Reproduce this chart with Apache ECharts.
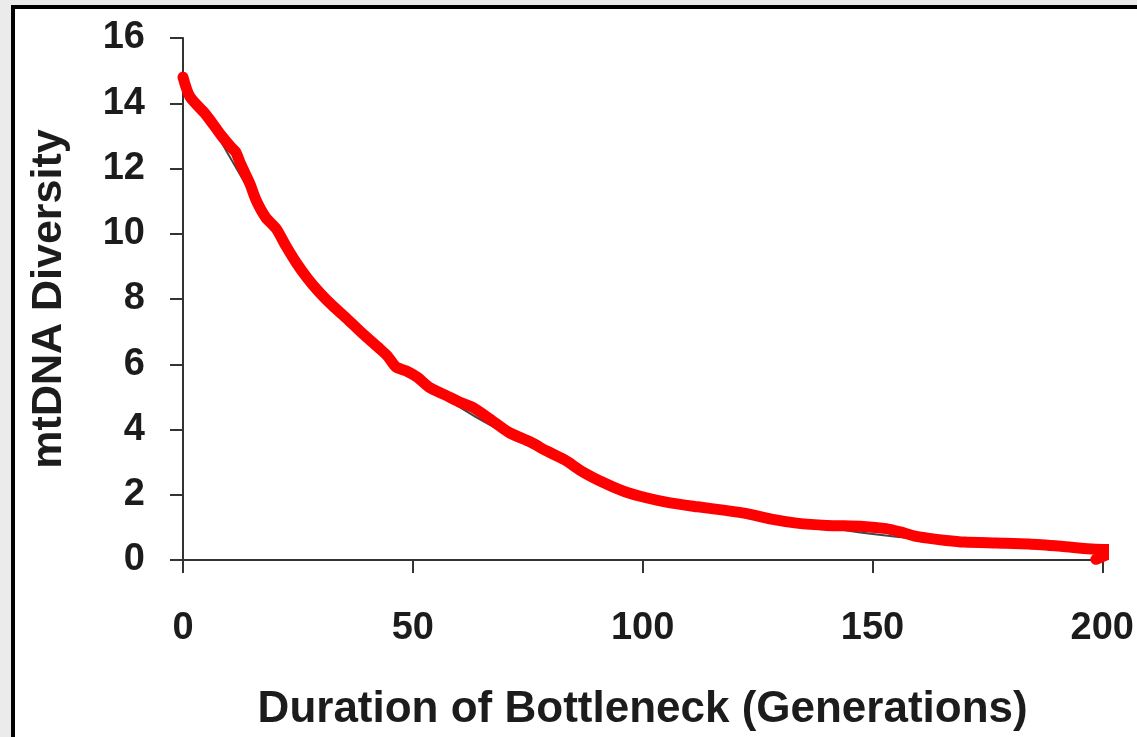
<!DOCTYPE html>
<html>
<head>
<meta charset="utf-8">
<script src="https://cdn.jsdelivr.net/npm/echarts@6/dist/echarts.min.js"></script>
<style>
html,body{margin:0;padding:0;background:#ebebeb;overflow:hidden;}
#frame{position:absolute;left:11px;top:5px;width:1200px;height:800px;border:4px solid #000;background:#fff;}
#chart{position:absolute;left:0;top:0;width:1137px;height:737px;}
</style>
</head>
<body>
<div id="frame"></div>
<div id="chart"></div>
<script>
// Data
const xTicks = [0, 50, 100, 150, 200];
const yTicks = [0, 2, 4, 6, 8, 10, 12, 14, 16];
const xTitle = 'Duration of Bottleneck (Generations)';
const yTitle = 'mtDNA Diversity';

// Hand-drawn red trace (generations, diversity)
const redGen = [0,1.5,5,8.4,10.5,11.5,12.5,14.5,16,18,20.3,22.5,24.7,27,29.7,32.5,35.5,39,42.6,44.5,46.3,48.5,51,53.5,57,60,63,67,70.8,75.8,79,83,87,91.8,96,101,106,112,118,122.7,128,133.5,140,148,153,156,159,162,166,170,177,184,191,198.5,203.5,198.6];
const redVal = [14.8,14.2,13.65,13.0,12.65,12.5,12.15,11.55,11.0,10.5,10.15,9.6,9.1,8.65,8.2,7.8,7.42,6.95,6.5,6.25,5.92,5.8,5.6,5.3,5.06,4.85,4.68,4.3,3.92,3.6,3.35,3.07,2.7,2.35,2.1,1.9,1.75,1.63,1.52,1.42,1.25,1.13,1.06,1.03,0.96,0.86,0.74,0.67,0.6,0.55,0.52,0.49,0.42,0.33,0.32,0.02];

// Underlying printed curve (thin dark line)
const grayGen = [0,5,10,15,20,25,30,40,50,60,70,80,90,100,110,120,130,140,150,160,170,180,190,200];
const grayVal = [14.7,13.6,12.4,11.2,10.1,9.0,8.1,6.8,5.7,4.7,3.9,3.2,2.5,2.0,1.7,1.45,1.2,1.0,0.8,0.65,0.55,0.48,0.4,0.3];

const redData = redGen.map((g, i) => [g, redVal[i]]);
const grayData = grayGen.map((g, i) => [g, grayVal[i]]);

const chart = echarts.init(document.getElementById('chart'), null, {renderer: 'canvas'});
const font = '"Liberation Sans", Arial, sans-serif';
chart.setOption({
  backgroundColor: 'transparent',
  animation: false,
  grid: {left: 183, right: 30, top: 38, bottom: 176, containLabel: false},
  xAxis: {
    type: 'value',
    min: xTicks[0], max: xTicks[xTicks.length - 1], interval: 50,
    name: xTitle, nameLocation: 'middle', nameGap: 128,
    nameTextStyle: {fontFamily: font, fontSize: 44, fontWeight: 'bold', color: '#1c1c1c'},
    axisLine: {show: true, lineStyle: {color: '#333', width: 2}},
    axisTick: {show: true, length: 13, lineStyle: {color: '#333', width: 2}},
    axisLabel: {fontFamily: font, fontSize: 38, fontWeight: 'bold', color: '#1c1c1c', margin: 50},
    splitLine: {show: false}
  },
  yAxis: {
    type: 'value',
    min: yTicks[0], max: yTicks[yTicks.length - 1], interval: 2,
    name: yTitle, nameLocation: 'middle', nameGap: 112, nameRotate: 90,
    nameTextStyle: {fontFamily: font, fontSize: 43, fontWeight: 'bold', color: '#1c1c1c'},
    axisLine: {show: true, lineStyle: {color: '#333', width: 2}},
    axisTick: {show: true, length: 13, lineStyle: {color: '#333', width: 2}},
    axisLabel: {fontFamily: font, fontSize: 38, fontWeight: 'bold', color: '#1c1c1c', margin: 38},
    splitLine: {show: false}
  },
  series: [
    {
      type: 'line', data: grayData, smooth: true, showSymbol: false, symbol: 'none',
      lineStyle: {color: '#444', width: 2}, clip: false, z: 2
    },
    {
      type: 'line', data: redData, smooth: 0.25, showSymbol: false, symbol: 'none',
      lineStyle: {color: '#ff0000', width: 11, cap: 'round', join: 'round'}, clip: false, z: 3
    }
  ]
});
</script>
</body>
</html>
